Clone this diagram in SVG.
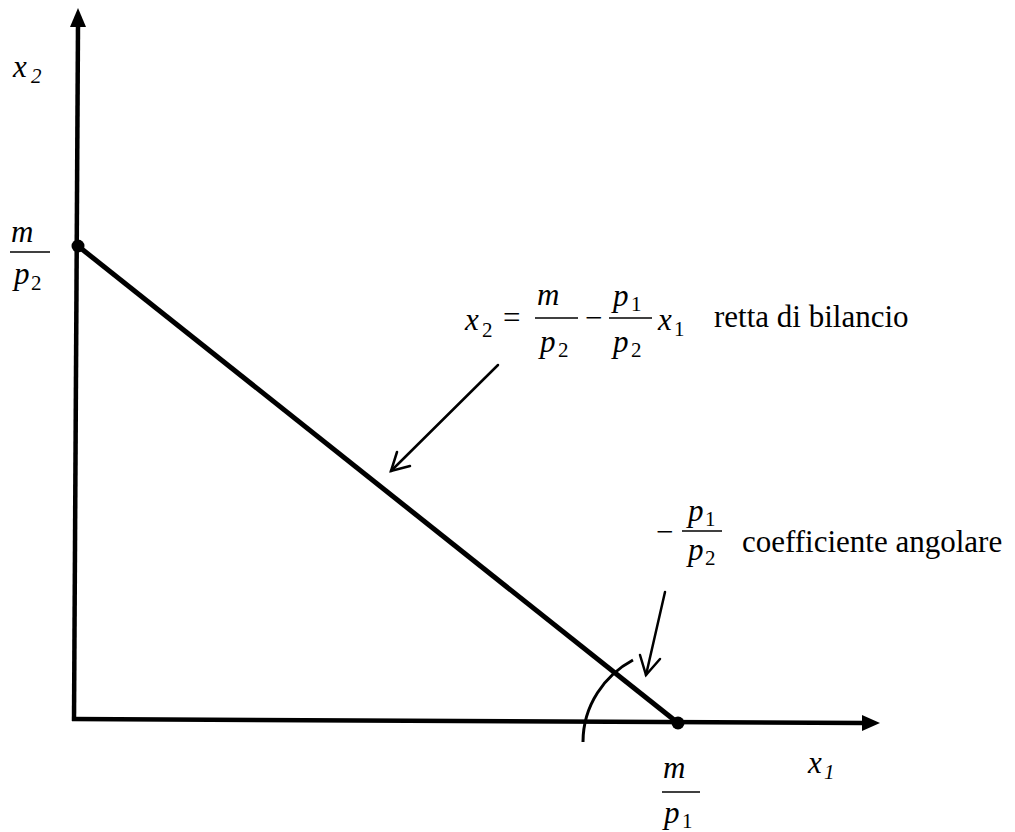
<svg xmlns="http://www.w3.org/2000/svg" width="1015" height="832" viewBox="0 0 1015 832">
<style>
.t{font-family:'Times New Roman','Liberation Serif','DejaVu Serif',serif;font-size:31px;fill:#000}
.i{font-style:italic}
.s{font-size:21px}
.bar{stroke:#000;stroke-width:1.5}
.ax{stroke:#000;stroke-width:4.5;fill:none}
.ar{stroke:#000;stroke-width:2.5;fill:none;stroke-linecap:round;stroke-linejoin:miter}
</style>
<rect width="1015" height="832" fill="#fff"/>
<g id="axes">
<line class="ax" x1="74" y1="721" x2="78" y2="24"/>
<polygon points="78,8 70,27 86,27" fill="#000"/>
<line class="ax" x1="72" y1="719" x2="864" y2="723"/>
<polygon points="880,723 862,715 862,731" fill="#000"/>
</g>
<g id="budget-line">
<line x1="78" y1="246" x2="678" y2="723" stroke="#000" stroke-width="5"/>
<circle cx="78" cy="246" r="6.5" fill="#000"/>
<circle cx="678" cy="723" r="6.5" fill="#000"/>
<path d="M583,742 C583,705 605,675 633,660" fill="none" stroke="#000" stroke-width="3"/>
</g>
<g id="label-x2">
<text class="t i" x="13" y="77">x<tspan class="s" x="31" y="83">2</tspan></text>
</g>
<g id="label-x1">
<text class="t i" x="808" y="773">x<tspan class="s" x="824" y="779">1</tspan></text>
</g>
<g id="label-m-p2">
<text class="t i" x="11" y="242">m</text>
<line class="bar" x1="10" y1="252" x2="50" y2="252"/>
<text class="t i" x="14" y="284">p<tspan class="s" font-style="normal" x="31" y="290">2</tspan></text>
</g>
<g id="label-m-p1">
<text class="t i" x="663" y="778">m</text>
<line class="bar" x1="662" y1="792" x2="700" y2="792"/>
<text class="t i" x="664" y="823">p<tspan class="s" font-style="normal" x="682" y="828">1</tspan></text>
</g>
<g id="label-equation">
<text class="t i" x="465" y="330">x<tspan class="s" font-style="normal" x="482" y="337">2</tspan></text>
<text class="t" x="503" y="328">=</text>
<text class="t i" x="537" y="305">m</text>
<line class="bar" x1="535" y1="318" x2="578" y2="318"/>
<text class="t i" x="540" y="352">p<tspan class="s" font-style="normal" x="558" y="357">2</tspan></text>
<text class="t" x="585" y="328">−</text>
<text class="t i" x="613" y="306">p<tspan class="s" font-style="normal" x="631" y="311">1</tspan></text>
<line class="bar" x1="609" y1="318" x2="652" y2="318"/>
<text class="t i" x="613" y="352">p<tspan class="s" font-style="normal" x="631" y="357">2</tspan></text>
<text class="t i" x="658" y="330">x<tspan class="s" font-style="normal" x="674" y="336">1</tspan></text>
<text class="t" x="714" y="327">retta di bilancio</text>
</g>
<g id="label-slope">
<text class="t" x="656" y="542">−</text>
<text class="t i" x="688" y="521">p<tspan class="s" font-style="normal" x="705" y="526">1</tspan></text>
<line class="bar" x1="682" y1="531" x2="722" y2="531"/>
<text class="t i" x="688" y="560">p<tspan class="s" font-style="normal" x="705" y="565">2</tspan></text>
<text class="t" x="742" y="552">coefficiente angolare</text>
</g>
<g id="connectors">
<line class="ar" x1="498" y1="365" x2="391" y2="471"/>
<polyline class="ar" points="397,452 391,471 410,466"/>
<line class="ar" x1="665" y1="592" x2="646" y2="675"/>
<polyline class="ar" points="640,655 646,675 660,659"/>
</g>
</svg>
